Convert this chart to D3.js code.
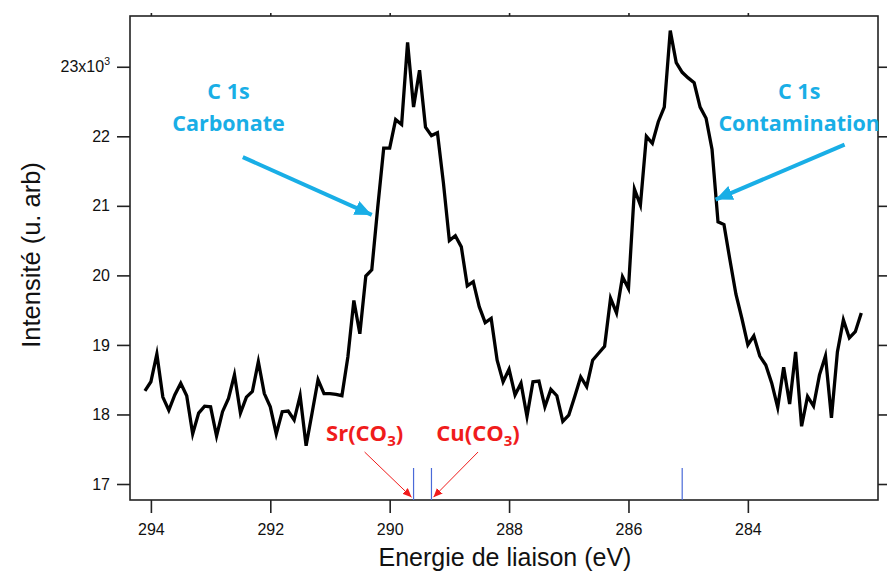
<!DOCTYPE html>
<html>
<head>
<meta charset="utf-8">
<script src="https://cdn.jsdelivr.net/npm/d3@7"></script>
<style>
  html, body { margin: 0; padding: 0; background: #fff; }
  svg { display: block; }
</style>
</head>
<body>
<svg id="chart" width="887" height="572"></svg>
<script>
// C 1s XPS spectrum: binding energy (eV) and intensity (counts)
const energies = [
  294.1, 294.0, 293.9, 293.8, 293.7, 293.6, 293.5, 293.4, 293.3, 293.2,
  293.1, 293.0, 292.9, 292.8, 292.7, 292.6, 292.5, 292.4, 292.3, 292.2,
  292.1, 292.0, 291.9, 291.8, 291.7, 291.6, 291.5, 291.4, 291.3, 291.2,
  291.1, 291.0, 290.9, 290.8, 290.7, 290.6, 290.5, 290.4, 290.3, 290.2,
  290.1, 290.0, 289.9, 289.8, 289.7, 289.6, 289.5, 289.4, 289.3, 289.2,
  289.1, 289.0, 288.9, 288.8, 288.7, 288.6, 288.5, 288.4, 288.3, 288.2,
  288.1, 288.0, 287.9, 287.8, 287.7, 287.6, 287.5, 287.4, 287.3, 287.2,
  287.1, 287.0, 286.9, 286.8, 286.7, 286.6, 286.5, 286.4, 286.3, 286.2,
  286.1, 286.0, 285.9, 285.8, 285.7, 285.6, 285.5, 285.4, 285.3, 285.2,
  285.1, 285.0, 284.9, 284.8, 284.7, 284.6, 284.5, 284.4, 284.3, 284.2,
  284.1, 284.0, 283.9, 283.8, 283.7, 283.6, 283.5, 283.4, 283.3, 283.2,
  283.1, 283.0, 282.9, 282.8, 282.7, 282.6, 282.5, 282.4, 282.3, 282.2,
  282.1
];
const intensities = [
  18340, 18470, 18870, 18250, 18060, 18280, 18450, 18270, 17720, 18020,
  18120, 18110, 17690, 18040, 18230, 18570, 18020, 18250, 18330, 18760,
  18300, 18110, 17720, 18040, 18050, 17920, 18270, 17550, 18020, 18500,
  18300, 18300, 18290, 18270, 18830, 19640, 19160, 19990, 20080, 20980,
  21830, 21830, 22240, 22170, 23350, 22420, 22950, 22130, 22010, 22050,
  21330, 20500, 20570, 20410, 19850, 19910, 19550, 19320, 19380, 18780,
  18470, 18650, 18280, 18450, 17970, 18470, 18480, 18110, 18360, 18270,
  17900, 17990, 18260, 18540, 18400, 18780, 18880, 18980, 19670, 19460,
  19980, 19810, 21240, 21010, 22000, 21900, 22210, 22420, 23520, 23060,
  22920, 22840, 22770, 22420, 22260, 21810, 20770, 20730, 20220, 19730,
  19380, 19000, 19130, 18840, 18710, 18450, 18100, 18680, 18150, 18900,
  17830, 18260, 18120, 18570, 18840, 17950, 18900, 19360, 19100, 19190,
  19460
];

// Axis ticks
const xTicks = [294, 292, 290, 288, 286, 284];
const yTicks = [17000, 18000, 19000, 20000, 21000, 22000, 23000];

// Reference binding energies (vertical markers)
const refNames = ["Sr(CO3)", "Cu(CO3)", "C-C"];
const refEnergies = [289.6, 289.3, 285.1];

const svg = d3.select("#chart");
const plot = { left: 130, right: 878, top: 16, bottom: 500 };

const x = d3.scaleLinear().domain([294.35, 281.82]).range([plot.left, plot.right]);
const y = d3.scaleLinear().domain([16770, 23730]).range([plot.bottom, plot.top]);

const axisFont = "'Liberation Sans', Arial, sans-serif";
const titleFont = "'Liberation Sans', Arial, sans-serif";
const annoFont = "'Open Sans', 'Noto Sans', sans-serif";
const cyan = "#19aee6";
const red = "#f01c1c";

// Arrowhead markers
const defs = svg.append("defs");
function marker(id, color, w, h) {
  defs.append("marker")
    .attr("id", id)
    .attr("markerUnits", "userSpaceOnUse")
    .attr("viewBox", `0 0 ${w} ${h}`)
    .attr("refX", w).attr("refY", h / 2)
    .attr("markerWidth", w).attr("markerHeight", h)
    .attr("orient", "auto")
    .append("path")
    .attr("d", `M0,0L${w},${h / 2}L0,${h}Z`)
    .attr("fill", color);
}
marker("headBlue", cyan, 17, 15);
marker("headRed", red, 9, 8);

// Axes
const gx = svg.append("g").attr("transform", `translate(0,${plot.bottom})`)
  .call(d3.axisBottom(x).tickValues(xTicks).tickSize(13).tickSizeOuter(0).tickPadding(11).tickFormat(d3.format("d")));
const gxTop = svg.append("g").attr("transform", `translate(0,${plot.top})`)
  .call(d3.axisTop(x).tickValues(xTicks).tickSize(3).tickSizeOuter(0).tickFormat(""));
const gy = svg.append("g").attr("transform", `translate(${plot.left},0)`)
  .call(d3.axisLeft(y).tickValues(yTicks).tickSize(13).tickSizeOuter(0).tickPadding(7)
    .tickFormat(d => d === 23000 ? "" : String(d / 1000)));
const gyRight = svg.append("g").attr("transform", `translate(${plot.right},0)`)
  .call(d3.axisRight(y).tickValues(yTicks).tickSize(13).tickSizeOuter(0).tickFormat(""));

[gx, gxTop, gy, gyRight].forEach(g => {
  g.select(".domain").remove();
  g.selectAll(".tick line").attr("stroke", "#222").attr("stroke-width", 1.6);
  g.selectAll("text").attr("font-family", axisFont).attr("font-size", 16).attr("fill", "#111");
});

// Top tick label with exponent
const t23 = gy.selectAll(".tick").filter(d => d === 23000).select("text");
t23.text(null);
t23.append("tspan").text("23x10");
t23.append("tspan").text("3").attr("font-size", 10.5).attr("dy", -7);

// Plot frame
svg.append("rect")
  .attr("x", plot.left).attr("y", plot.top)
  .attr("width", plot.right - plot.left).attr("height", plot.bottom - plot.top)
  .attr("fill", "none").attr("stroke", "#222").attr("stroke-width", 1.6);

// Axis titles
svg.append("text")
  .attr("x", 505).attr("y", 566)
  .attr("text-anchor", "middle")
  .attr("font-family", titleFont).attr("font-size", 25).attr("fill", "#111")
  .text("Energie de liaison (eV)");
svg.append("text")
  .attr("transform", `translate(40,255) rotate(-90)`)
  .attr("text-anchor", "middle")
  .attr("font-family", titleFont).attr("font-size", 25.5).attr("fill", "#111")
  .text("Intensité (u. arb)");

// Reference energy markers
svg.append("g").selectAll("line")
  .data(refEnergies)
  .join("line")
  .attr("x1", d => x(d)).attr("x2", d => x(d))
  .attr("y1", y(17230)).attr("y2", plot.bottom)
  .attr("stroke", "#4a6ad8").attr("stroke-width", 1.2);

// Spectrum
const series = energies.map((e, i) => ({ e, v: intensities[i] }));
svg.append("path")
  .datum(series)
  .attr("fill", "none")
  .attr("stroke", "#000")
  .attr("stroke-width", 3.3)
  .attr("stroke-linejoin", "miter")
  .attr("stroke-miterlimit", 6)
  .attr("d", d3.line().x(d => x(d.e)).y(d => y(d.v)));

// Peak annotations (blue)
const peakNotes = [
  { lines: ["C 1s", "Carbonate"], tx: 292.70, from: [292.46, 21700], to: [290.30, 20870] },
  { lines: ["C 1s", "Contamination"], tx: 283.14, from: [282.38, 21880], to: [284.54, 21090] }
];
peakNotes.forEach(n => {
  n.lines.forEach((s, i) => {
    svg.append("text")
      .attr("x", x(n.tx)).attr("y", 99 + i * 32)
      .attr("text-anchor", "middle")
      .attr("font-family", annoFont).attr("font-weight", 700).attr("font-size", 21.5)
      .attr("fill", cyan)
      .text(s);
  });
  svg.append("line")
    .attr("x1", x(n.from[0])).attr("y1", y(n.from[1]))
    .attr("x2", x(n.to[0])).attr("y2", y(n.to[1]))
    .attr("stroke", cyan).attr("stroke-width", 4)
    .attr("marker-end", "url(#headBlue)");
});

// Reference compound labels (red)
const compoundNotes = [
  { name: "Sr", tx: 290.42, from: [290.42, 17460], ref: 0 },
  { name: "Cu", tx: 288.52, from: [288.52, 17460], ref: 1 }
];
compoundNotes.forEach(n => {
  const t = svg.append("text")
    .attr("x", x(n.tx)).attr("y", 441)
    .attr("text-anchor", "middle")
    .attr("font-family", annoFont).attr("font-weight", 700).attr("font-size", 22)
    .attr("fill", red);
  t.append("tspan").text(n.name + "(CO");
  t.append("tspan").text("3").attr("font-size", 15).attr("dy", 5);
  t.append("tspan").text(")").attr("dy", -5);
  svg.append("line")
    .attr("x1", x(n.from[0])).attr("y1", y(n.from[1]))
    .attr("x2", x(refEnergies[n.ref]) + (n.ref === 0 ? -2 : 2)).attr("y2", y(16810))
    .attr("stroke", red).attr("stroke-width", 1)
    .attr("marker-end", "url(#headRed)");
});
</script>
</body>
</html>
